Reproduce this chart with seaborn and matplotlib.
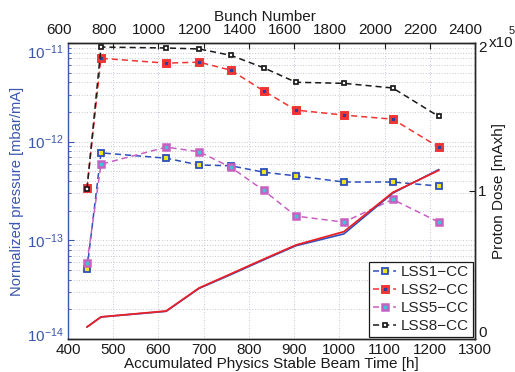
import numpy as np
import pandas as pd
import matplotlib
matplotlib.use("Agg")
import matplotlib.pyplot as plt
import matplotlib.ticker as mticker
import matplotlib.transforms as mtransforms
import seaborn as sns

# ---- data -------------------------------------------------------------
time_h = [442, 473, 617, 690, 760, 833, 904, 1010, 1118, 1220]

lss1 = [5.1e-14, 7.7e-13, 6.8e-13, 5.8e-13, 5.7e-13, 4.9e-13, 4.5e-13, 3.9e-13, 3.9e-13, 3.55e-13]
lss2 = [3.4e-13, 7.0e-12, 6.25e-12, 6.4e-12, 5.3e-12, 3.26e-12, 2.09e-12, 1.86e-12, 1.69e-12, 8.8e-13]
lss5 = [5.9e-14, 5.9e-13, 8.8e-13, 7.9e-13, 5.5e-13, 3.2e-13, 1.76e-13, 1.53e-13, 2.6e-13, 1.53e-13]
lss8 = [3.3e-13, 9.1e-12, 8.9e-12, 8.7e-12, 7.5e-12, 5.6e-12, 4.0e-12, 3.9e-12, 3.5e-12, 1.8e-12]

dose_blue = [0.081e5, 0.149e5, 0.187e5, 0.342e5, 0.435e5, 0.535e5, 0.630e5, 0.710e5, 0.985e5, 1.145e5]
dose_red = [0.081e5, 0.149e5, 0.189e5, 0.345e5, 0.440e5, 0.540e5, 0.635e5, 0.725e5, 0.990e5, 1.140e5]

bunch_ticks = [600, 800, 1000, 1200, 1400, 1600, 1800, 2000, 2200, 2400]
time_ticks = [400, 500, 600, 700, 800, 900, 1000, 1100, 1200, 1300]
pressure_ticks = [1e-14, 1e-13, 1e-12, 1e-11]
dose_ticks = [0, 1e5, 2e5]
dose_labels = ["0", "1", "2"]

series_names = ["LSS1−CC", "LSS2−CC", "LSS5−CC", "LSS8−CC"]

# ---- style ------------------------------------------------------------
sns.set_theme(style="white")
plt.rcParams["font.family"] = ["Liberation Sans", "DejaVu Sans"]
plt.rcParams["mathtext.fontset"] = "custom"
plt.rcParams["mathtext.rm"] = "Liberation Sans"
plt.rcParams["mathtext.default"] = "regular"
plt.rcParams["axes.linewidth"] = 1.0

FS = 11
INK = "#1a1a1a"
AX_BLUE = "#3a56ad"
GRID = dict(color="#b4b8c8", linestyle=(0, (1, 2.2)), linewidth=0.6)

W, H = 515, 372
fig = plt.figure(figsize=(W / 100, H / 100), dpi=100)


def px_offset(dx, dy):
    return mtransforms.ScaledTranslation(dx / 100, dy / 100, fig.dpi_scale_trans)


def decade_label(v):
    return r"$\mathregular{10^{%d}}$" % int(round(np.log10(v)))


# top axis carrying the bunch-number scale
axt = fig.add_axes([50 / W, 33 / H, 430 / W, 296 / H])
axt.patch.set_visible(False)
for s in axt.spines.values():
    s.set_visible(False)
axt.set_xlim(560, 2466)
axt.set_yticks([])
axt.xaxis.set_ticks_position("top")
axt.xaxis.set_label_position("top")
axt.set_xticks(bunch_ticks)
axt.set_xticklabels([str(b) for b in bunch_ticks])
axt.tick_params(axis="x", length=0, pad=4.0, labelsize=FS, colors=INK)
axt.set_xlabel("Bunch Number", fontsize=FS, labelpad=1.5, color=INK)

# main pressure axis
ax = fig.add_axes([68 / W, 33 / H, 407 / W, 296 / H])
ax.patch.set_visible(False)
ax.set_yscale("log")
ax.set_xlim(400, 1300)
ax.set_ylim(1e-14, 1e-11)

styles = [
    dict(color="#2c4fbd", marker="s", markersize=4.5, markerfacecolor="#f2e31e",
         markeredgecolor="#2c4fbd", markeredgewidth=1.3),
    dict(color="#f03434", marker="s", markersize=5.0, markerfacecolor="#2a3f9e",
         markeredgecolor="#f03434", markeredgewidth=2.1),
    dict(color="#c860c4", marker="s", markersize=4.7, markerfacecolor="#3fc4d6",
         markeredgecolor="#c860c4", markeredgewidth=1.8),
    dict(color=INK, marker="s", markersize=3.0, markerfacecolor="white",
         markeredgecolor=INK, markeredgewidth=1.25),
]
for name, vals, st in zip(series_names, [lss1, lss2, lss5, lss8], styles):
    df = pd.DataFrame({"time": time_h, "p": vals})
    sns.lineplot(data=df, x="time", y="p", ax=ax, label=name, linestyle=(0, (4, 2.6)),
                 linewidth=1.1, **st)

ax.set_xticks(time_ticks)
ax.set_xticklabels([str(t) for t in time_ticks])
ax.yaxis.set_major_locator(mticker.FixedLocator(pressure_ticks))
ax.yaxis.set_minor_locator(mticker.LogLocator(base=10, subs=np.arange(2, 10), numticks=20))
ax.yaxis.set_minor_formatter(mticker.NullFormatter())


def pressure_fmt(v, pos):
    # the two end decades are labelled separately, nudged inside the axis height
    if v <= pressure_ticks[0] * 1.01 or v >= pressure_ticks[-1] * 0.99:
        return ""
    return decade_label(v)


ax.yaxis.set_major_formatter(mticker.FuncFormatter(pressure_fmt))
ax.tick_params(axis="x", direction="in", length=4, width=0.8, top=True, pad=3,
               labelsize=FS, colors=INK)
ax.tick_params(axis="y", which="both", direction="in", left=True, right=True,
               labelsize=FS, labelcolor=AX_BLUE, color=AX_BLUE, pad=3)
ax.tick_params(axis="y", which="major", length=4, width=0.8)
ax.tick_params(axis="y", which="minor", length=2.5, width=0.6)
ax.spines["left"].set_color(AX_BLUE)
ax.grid(True, axis="x", which="major", **GRID)
ax.grid(True, axis="y", which="both", **GRID)
ax.set_xlabel("Accumulated Physics Stable Beam Time [h]", fontsize=11, labelpad=-0.3,
              color=INK)
ax.set_ylabel("Normalized pressure [mbar/mA]", fontsize=10.6, color=AX_BLUE, labelpad=2)

ax.text(0, pressure_ticks[-1], decade_label(pressure_ticks[-1]),
        transform=ax.get_yaxis_transform() + px_offset(-4, -10),
        ha="right", va="center", fontsize=FS, color=AX_BLUE)
ax.text(0, pressure_ticks[0], decade_label(pressure_ticks[0]),
        transform=ax.get_yaxis_transform() + px_offset(-4, 3),
        ha="right", va="center", fontsize=FS, color=AX_BLUE)

# proton dose on the right axis
ax2 = ax.twinx()
dfd = pd.DataFrame({"time": time_h, "blue": dose_blue, "red": dose_red})
sns.lineplot(data=dfd, x="time", y="blue", ax=ax2, color="#3050c0", linewidth=1.2,
             legend=False)
sns.lineplot(data=dfd, x="time", y="red", ax=ax2, color="#ea2026", linewidth=1.3,
             legend=False)
ax2.set_ylim(0, 2e5)
ax2.set_yticks(dose_ticks)
ax2.set_yticklabels(["", dose_labels[1], ""])
ax2.tick_params(axis="y", direction="in", length=4, width=0.8, pad=2, labelsize=FS,
                colors=INK)
ax2.set_ylabel("Proton Dose [mAxh]", fontsize=FS, color=INK, labelpad=4)
ax2.set_xlabel("")
ax2.spines["left"].set_visible(False)
# end labels of the dose scale are kept inside the axis height
ax2.text(1, dose_ticks[0], dose_labels[0], transform=ax2.get_yaxis_transform() + px_offset(3, 6),
         ha="left", va="center", fontsize=FS, color=INK)
ax2.text(1, dose_ticks[2], dose_labels[2], transform=ax2.get_yaxis_transform() + px_offset(3, -5),
         ha="left", va="center", fontsize=FS, color=INK)
fig.text(489 / W, 1 - 43 / H, "x10", fontsize=FS, ha="left", va="center", color=INK)
fig.text(509 / W, 1 - 31 / H, "5", fontsize=8, ha="left", va="center", color=INK)

for s in ["top", "bottom", "right"]:
    ax.spines[s].set_color(INK)

leg = ax.legend(loc="lower right", fontsize=FS, frameon=True, fancybox=False,
                framealpha=1, edgecolor=INK, borderpad=0.25, handlelength=1.5,
                handletextpad=0.3, labelspacing=0.25, borderaxespad=0.15)
leg.get_frame().set_linewidth(0.9)
leg.remove()
ax2.add_artist(leg)

fig.savefig("out.png", dpi=100)
